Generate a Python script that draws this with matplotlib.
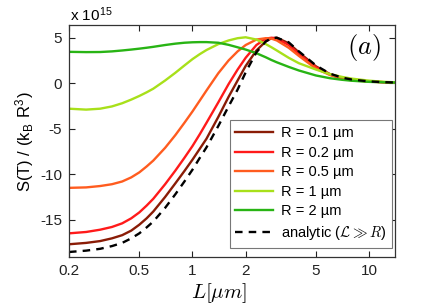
import matplotlib
matplotlib.use("Agg")
import matplotlib.pyplot as plt
from matplotlib.ticker import FixedLocator, FixedFormatter, NullLocator

plt.rcParams['font.family'] = ['Liberation Sans', 'DejaVu Sans']
plt.rcParams['mathtext.fontset'] = 'cm'

# L values (micrometres)
L = [0.2, 0.25, 0.3, 0.35, 0.4, 0.45, 0.5, 0.55, 0.6, 0.7, 0.8, 0.9, 1.0, 1.1,
     1.2, 1.4, 1.6, 1.8, 2.0, 2.3, 2.6, 2.8, 3.0, 3.5, 4.0, 5.0, 6.0, 7.0, 8.0,
     10.0, 12.0, 14.0]

# S(T)/(kB R^3) in units of 1e15
s_r01 = [-17.7, -17.55, -17.35, -17.05, -16.7, -16.2, -15.55, -14.85, -14.1, -12.5,
         -11.0, -9.65, -8.4, -7.2, -6.1, -3.7, -1.5, 0.3, 1.9, 3.6, 4.6, 4.95, 5.0,
         4.4, 3.4, 1.85, 1.0, 0.6, 0.38, 0.2, 0.12, 0.08]
s_r02 = [-16.5, -16.35, -16.1, -15.8, -15.4, -14.85, -14.2, -13.45, -12.7, -11.1,
         -9.6, -8.2, -6.9, -5.6, -4.35, -2.1, -0.1, 1.5, 2.8, 4.2, 4.9, 5.0, 4.9,
         4.2, 3.2, 1.75, 0.95, 0.55, 0.35, 0.2, 0.12, 0.08]
s_r05 = [-11.5, -11.45, -11.3, -11.1, -10.8, -10.35, -9.8, -9.15, -8.5, -7.1,
         -5.7, -4.35, -3.1, -1.9, -0.8, 1.1, 2.5, 3.5, 4.2, 4.8, 4.95, 4.9, 4.7,
         3.9, 3.0, 1.6, 0.9, 0.5, 0.32, 0.18, 0.1, 0.08]
s_r1 = [-2.8, -2.9, -2.8, -2.55, -2.2, -1.8, -1.4, -1.0, -0.6, 0.3, 1.15, 1.95,
        2.65, 3.2, 3.65, 4.3, 4.7, 4.95, 5.05, 4.8, 4.3, 3.95, 3.6, 2.8, 2.2, 1.5,
        1.0, 0.7, 0.5, 0.28, 0.16, 0.1]
s_r2 = [3.45, 3.42, 3.43, 3.5, 3.6, 3.7, 3.8, 3.9, 4.0, 4.2, 4.35, 4.45, 4.5,
        4.52, 4.52, 4.45, 4.22, 3.95, 3.7, 3.3, 2.85, 2.55, 2.3, 1.8, 1.4, 0.85,
        0.55, 0.38, 0.27, 0.15, 0.1, 0.07]
s_analytic = [-18.55, -18.4, -18.2, -17.9, -17.55, -17.05, -16.5, -15.85, -15.2,
              -13.7, -12.2, -10.8, -9.5, -8.2, -7.05, -4.7, -2.55, -0.7, 1.2, 3.4,
              4.6, 4.95, 5.0, 4.5, 3.5, 1.95, 1.05, 0.62, 0.4, 0.2, 0.12, 0.08]

series = [s_r01, s_r02, s_r05, s_r1, s_r2]
labels = ['R = 0.1 µm', 'R = 0.2 µm', 'R = 0.5 µm', 'R = 1 µm', 'R = 2 µm']
colors = ['#8a1c06', '#ff1a1a', '#ff5c1f', '#a8e01a', '#28b414']

xticks = [0.2, 0.5, 1, 2, 5, 10]
xticklabels = ['0.2', '0.5', '1', '2', '5', '10']
yticks = [-15, -10, -5, 0, 5]

fig = plt.figure(figsize=(4.37, 3.04), dpi=100)
ax = fig.add_axes([69/437, 47/304, 326/437, 232/304])

for s, lab, c in zip(series, labels, colors):
    ax.plot(L, s, color=c, lw=1.7, label=lab)
ax.plot(L, s_analytic, color='black', lw=1.7, ls=(0, (3.2, 2.6)),
        label=r'analytic ($\mathcal{L} \gg R$)')

ax.set_xscale('log')
ax.set_xlim(0.2, 14.0)
ax.set_ylim(-19.1, 6.4)
ax.xaxis.set_major_locator(FixedLocator(xticks))
ax.xaxis.set_major_formatter(FixedFormatter(xticklabels))
ax.xaxis.set_minor_locator(NullLocator())
ax.set_yticks(yticks)
ax.set_yticklabels([str(v) for v in yticks])
ax.tick_params(direction='in', top=True, right=True, length=4, width=0.8,
               labelsize=11, colors='#222222', pad=5)
for sp in ax.spines.values():
    sp.set_color('#333333')
    sp.set_linewidth(0.9)

ax.set_xlabel(r'$L[\mu m]$', fontsize=15, labelpad=0)
ax.xaxis.set_label_coords(0.46, -0.105)
ax.set_ylabel(r'S(T) / (k$_\mathregular{B}$ R$^\mathregular{3}$)', fontsize=12, labelpad=3)
fig.text(70/437, 1 - 15/304, r'x 10$^\mathregular{15}$', fontsize=11, ha='left', va='center')
ax.text(0.955, 0.905, r'$(a)$', transform=ax.transAxes, fontsize=19, ha='right', va='center')

leg = ax.legend(loc='lower right', bbox_to_anchor=(0.99, 0.04), fontsize=10.5,
                frameon=True, fancybox=False, edgecolor='#777777', framealpha=1,
                handlelength=2.6, handletextpad=0.5, labelspacing=0.38,
                borderpad=0.4, borderaxespad=0)
leg.get_frame().set_linewidth(0.8)

fig.savefig('out.png', dpi=100)
